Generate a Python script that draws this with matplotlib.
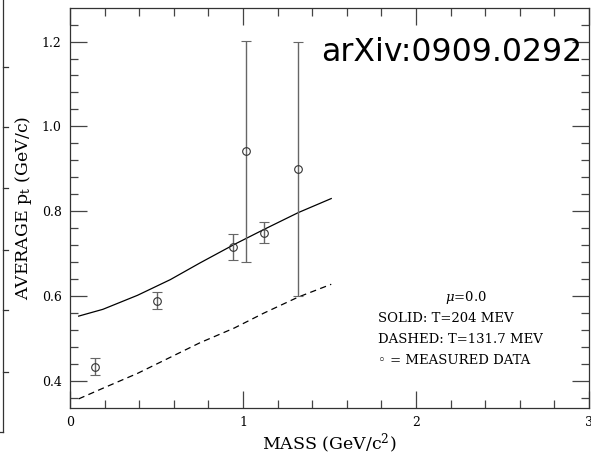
import matplotlib
matplotlib.use("Agg")
import matplotlib.pyplot as plt
from matplotlib.lines import Line2D
from matplotlib.ticker import MultipleLocator, FormatStrFormatter

plt.rcParams["font.family"] = ["DejaVu Serif", "DejaVu Sans"]
plt.rcParams["mathtext.fontset"] = "dejavuserif"

# measured average pt vs mass
mass_data = [0.145, 0.50, 0.94, 1.12, 1.02, 1.32]
pt_data = [0.434, 0.589, 0.716, 0.750, 0.941, 0.900]
pt_err = [0.020, 0.020, 0.030, 0.025, 0.260, 0.300]

# model curves
mass_curve = [0.05, 0.19, 0.39, 0.58, 0.75, 0.95, 1.12, 1.32, 1.51]
pt_solid = [0.553, 0.569, 0.602, 0.639, 0.678, 0.722, 0.757, 0.797, 0.830]
pt_dashed = [0.358, 0.383, 0.418, 0.456, 0.490, 0.525, 0.560, 0.598, 0.628]

legend_lines = [r"$\mu$=0.0", "SOLID: T=204 MEV", "DASHED: T=131.7 MEV",
                "\u25e6 = MEASURED DATA"]

fig = plt.figure(figsize=(5.91, 4.55), dpi=100)
ax = fig.add_axes([70 / 591, 47 / 455, 519 / 591, 400 / 455])

ax.plot(mass_curve, pt_solid, color="black", lw=0.9)
ax.plot(mass_curve, pt_dashed, color="black", lw=0.9, linestyle=(0, (5, 3.5)))
ax.errorbar(mass_data, pt_data, yerr=pt_err, fmt="o", ms=5.5, mfc="none",
            mec="#333333", mew=0.8, ecolor="#666666", elinewidth=1.0,
            capsize=3.8, capthick=1.0)

ax.set_xlim(0, 3)
ax.set_ylim(0.3365, 1.279)
ax.xaxis.set_major_locator(MultipleLocator(1))
ax.xaxis.set_minor_locator(MultipleLocator(0.2))
ax.yaxis.set_major_locator(MultipleLocator(0.2))
ax.yaxis.set_minor_locator(MultipleLocator(0.04))
ax.yaxis.set_major_formatter(FormatStrFormatter("%.1f"))
ax.tick_params(which="both", direction="in", top=True, right=True,
               color="#444444", width=0.9, labelsize=9, pad=6)
ax.tick_params(which="major", length=12)
ax.tick_params(which="minor", length=6)
for sp in ax.spines.values():
    sp.set_color("#333333")
    sp.set_linewidth(0.9)

ax.set_xlabel(r"MASS (GeV/c$^2$)", fontsize=12.5, labelpad=1.5)
ax.set_ylabel(r"AVERAGE $\mathrm{p_t}$ (GeV/c)", fontsize=12.5)
ax.yaxis.set_label_coords(-0.069, 0.5)

ax.text(2.287, 0.596, legend_lines[0], fontsize=9.5, ha="center", va="center")
for i, line in enumerate(legend_lines[1:]):
    ax.text(1.78, 0.548 - i * 0.0494, line, fontsize=9.5, ha="left",
            va="center")

fig.text(321 / 591, 1 - 61 / 455, "arXiv:0909.0292", family="DejaVu Sans",
         fontsize=22.7, ha="left", va="baseline")

# edge of the neighbouring panel
fx = 3 / 591
fig.add_artist(Line2D([fx, fx], [1.0, 1 - 432 / 455], color="#333333", lw=0.9))
fig.add_artist(Line2D([0, fx], [1 - 432 / 455] * 2, color="#333333", lw=0.9))
for ty in [67, 127, 188, 250, 310, 372]:
    fig.add_artist(Line2D([fx, fx + 5 / 591], [1 - ty / 455] * 2,
                          color="#333333", lw=0.9))

fig.savefig("out.png", dpi=100)
